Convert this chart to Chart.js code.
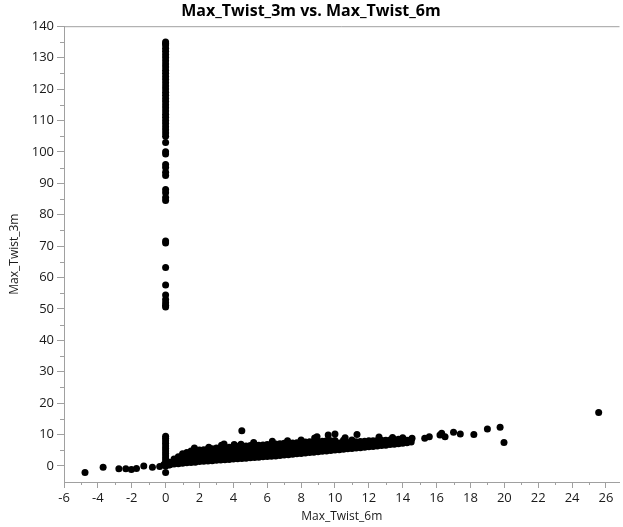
<!DOCTYPE html>
<html>
<head>
<meta charset="utf-8">
<script src="https://cdn.jsdelivr.net/npm/chart.js@4/dist/chart.umd.min.js"></script>
<style>
  body { margin: 0; background: #fff; }
  #wrap { width: 623px; height: 527px; }
</style>
</head>
<body>
<div id="wrap"><canvas id="twistChart" width="623" height="527"></canvas></div>
<script>
const chartTitle = 'Max_Twist_3m vs. Max_Twist_6m';
const xTitle = 'Max_Twist_6m';
const yTitle = 'Max_Twist_3m';

// tall column of readings where Max_Twist_6m is 0
const spikeY = [135, 134.5, 134, 133, 132, 131, 130, 129, 128, 127, 126, 125, 124, 123, 122,
  121, 120, 119, 118, 117, 116, 115, 114, 113, 112, 111, 110, 109, 108, 107, 106, 105,
  103, 100, 99.3, 96, 95, 93.5, 92.5, 88, 87, 85.5, 84.5, 71.6, 71, 63.2, 57.6, 54.4,
  53, 52, 51.2, 50.6];

// short column at 0
const stubY = [-2.1, 0, 0.8, 1.6, 2.4, 3.2, 4, 4.8, 5.6, 6.4, 7.2, 8, 8.8, 9.5];

// few negative Max_Twist_6m values
const negTail = [
  [-4.76, -2.1], [-3.69, -0.4], [-2.76, -0.85], [-2.35, -0.85], [-2.02, -1.1],
  [-1.72, -0.8], [-1.29, 0], [-0.78, -0.4], [-0.35, -0.2], [-0.1, 0.5], [0.1, 1.2], [0.2, 0.3]
];

// dense main cloud
const band = [
  [0.25, 0.4], [0.25, 1.2],
  [0.5, 0.6], [0.5, 1.5], [0.5, 2.2],
  [0.75, 0.7], [0.75, 1.8], [0.75, 2.9],
  [1, 0.9], [1, 2], [1, 3.2], [1, 3.9],
  [1.25, 1], [1.25, 2.2], [1.25, 3.5], [1.25, 4.3],
  [1.5, 1.1], [1.5, 2.4], [1.5, 3.7], [1.5, 4.8],
  [1.75, 1.2], [1.75, 2.5], [1.75, 3.8], [1.75, 5], [1.7, 5.7],
  [2, 1.4], [2, 2.6], [2, 3.9], [2, 5.1],
  [2.25, 1.5], [2.25, 2.7], [2.25, 4], [2.25, 5.2],
  [2.5, 1.6], [2.5, 2.8], [2.5, 4.1], [2.5, 5.4], [2.55, 6],
  [2.75, 1.7], [2.75, 3], [2.75, 4.3], [2.75, 5.5],
  [3, 1.8], [3, 3.1], [3, 4.4], [3, 5.7],
  [3.25, 1.9], [3.25, 3.2], [3.25, 4.5], [3.25, 5.8], [3.3, 6.6],
  [3.5, 2], [3.5, 3.3], [3.5, 4.6], [3.5, 5.9], [3.45, 7],
  [3.75, 2.1], [3.75, 3.4], [3.75, 4.7], [3.75, 6],
  [4, 2.2], [4, 3.5], [4, 4.8], [4, 6.1], [4.05, 6.8],
  [4.25, 2.3], [4.25, 3.6], [4.25, 4.9], [4.25, 6.2],
  [4.5, 2.4], [4.5, 3.7], [4.5, 5], [4.5, 6.3], [4.45, 6.9],
  [4.75, 2.5], [4.75, 3.8], [4.75, 5.1], [4.75, 6.4],
  [5, 2.6], [5, 3.9], [5, 5.2], [5, 6.5],
  [5.25, 2.7], [5.25, 4], [5.25, 5.3], [5.25, 6.6], [5.2, 7.5],
  [5.5, 2.8], [5.5, 4.1], [5.5, 5.4], [5.5, 6.6],
  [5.75, 2.9], [5.75, 4.2], [5.75, 5.5], [5.75, 6.7],
  [6, 3], [6, 4.3], [6, 5.6], [6, 6.8],
  [6.25, 3.1], [6.25, 4.4], [6.25, 5.7], [6.25, 6.9], [6.3, 7.9],
  [6.5, 3.2], [6.5, 4.5], [6.5, 5.8], [6.5, 7],
  [6.75, 3.3], [6.75, 4.6], [6.75, 5.9], [6.75, 7.1],
  [7, 3.5], [7, 4.8], [7, 6], [7, 7.2],
  [7.25, 3.6], [7.25, 4.9], [7.25, 6.1], [7.25, 7.3],
  [7.5, 3.7], [7.5, 5], [7.5, 6.2], [7.5, 7.3],
  [7.75, 3.9], [7.75, 5.1], [7.75, 6.3], [7.75, 7.4],
  [8, 4], [8, 5.2], [8, 6.4], [8, 7.5],
  [8.25, 4.1], [8.25, 5.3], [8.25, 6.5], [8.25, 7.6],
  [8.5, 4.3], [8.5, 5.5], [8.5, 6.6], [8.5, 7.7],
  [8.75, 4.4], [8.75, 5.6], [8.75, 6.7], [8.75, 7.8],
  [9, 4.5], [9, 5.7], [9, 6.8], [9, 7.8],
  [9.25, 4.7], [9.25, 5.8], [9.25, 6.9], [9.25, 7.9],
  [9.5, 4.8], [9.5, 5.9], [9.5, 7], [9.5, 8],
  [9.75, 4.9], [9.75, 6], [9.75, 7.1], [9.75, 8],
  [10, 5.1], [10, 6.1], [10, 7.2], [10, 8.1],
  [10.25, 5.2], [10.25, 6.3], [10.25, 7.3],
  [10.5, 5.3], [10.5, 6.4], [10.5, 7.4], [10.5, 8.2],
  [10.75, 5.5], [10.75, 6.5], [10.75, 7.5],
  [11, 5.6], [11, 6.6], [11, 7.6], [11, 8.3],
  [11.25, 5.7], [11.25, 6.7], [11.25, 7.7],
  [11.5, 5.8], [11.5, 6.8], [11.5, 7.8],
  [11.75, 6], [11.75, 6.9], [11.75, 7.9],
  [12, 6.1], [12, 7], [12, 8],
  [12.25, 6.2], [12.25, 7.1], [12.25, 8],
  [12.5, 6.4], [12.5, 7.2], [12.5, 8.1],
  [12.75, 6.5], [12.75, 7.3], [12.75, 8.2],
  [13, 6.6], [13, 7.4], [13, 8.2],
  [13.25, 6.8], [13.25, 7.5], [13.25, 8.3],
  [13.5, 6.9], [13.5, 7.6], [13.5, 8.4],
  [13.75, 7.1], [13.75, 7.8], [13.75, 8.5],
  [14, 7.2], [14, 7.9], [14, 8.5],
  [14.25, 7.4], [14.25, 8.2],
  [14.5, 7.6], [14.5, 8.4]
];

// points sitting above the cloud
const upperStrays = [
  [4.5, 11.2], [7.2, 8], [8, 8.3], [8.8, 8.9], [8.94, 9.3], [9.6, 9.9], [10, 10.2],
  [10.6, 9], [11.3, 10], [12.6, 9.2], [13.4, 9.1], [14, 9]
];

// sparse tail to the right
const rightTail = [
  [14.55, 8.8], [15.3, 8.8], [15.57, 9.3], [16.2, 9.9], [16.3, 10.4], [16.5, 9.3],
  [17, 10.7], [17.4, 10.2], [18.2, 10], [19, 11.8], [19.75, 12.3], [19.98, 7.5], [25.57, 17]
];

const points = []
  .concat(spikeY.map(y => ({ x: 0, y: y })))
  .concat(stubY.map(y => ({ x: 0, y: y })))
  .concat([negTail, band, upperStrays, rightTail].flat().map(p => ({ x: p[0], y: p[1] })));

const axisGray = '#a0a0a0';
const labelFont = { family: 'Open Sans', size: 13 };

// short in-between tick marks (JMP style)
const minorTicks = {
  id: 'minorTicks',
  afterDraw(chart) {
    const c = chart.ctx;
    const xs = chart.scales.x, ys = chart.scales.y;
    c.save();
    c.strokeStyle = axisGray;
    c.lineWidth = 1;
    c.beginPath();
    for (let v = -5; v <= 26; v += 2) {
      const px = Math.round(xs.getPixelForValue(v)) + 0.5;
      c.moveTo(px, xs.top);
      c.lineTo(px, xs.top + 3);
    }
    for (let v = 5; v <= 140; v += 10) {
      const py = Math.round(ys.getPixelForValue(v)) + 0.5;
      c.moveTo(ys.right, py);
      c.lineTo(ys.right - 4, py);
    }
    // top frame line
    c.moveTo(ys.right, chart.chartArea.top + 0.5);
    c.lineTo(chart.chartArea.right, chart.chartArea.top + 0.5);
    c.stroke();
    c.restore();
  }
};

new Chart(document.getElementById('twistChart'), {
  type: 'scatter',
  data: {
    datasets: [{
      label: yTitle,
      data: points,
      backgroundColor: '#000',
      borderWidth: 0,
      pointRadius: 3.5,
      pointHoverRadius: 3.5
    }]
  },
  options: {
    responsive: false,
    animation: false,
    layout: { padding: { right: 1 } },
    plugins: {
      legend: { display: false },
      tooltip: { enabled: false },
      title: {
        display: true,
        text: chartTitle,
        color: '#000',
        font: { family: 'Open Sans', size: 16, weight: 'bold' },
        padding: { top: 2, bottom: 5 }
      }
    },
    scales: {
      x: {
        type: 'linear',
        min: -6,
        max: 26.8,
        afterFit(scale) { scale.height = 45; },
        grid: { drawOnChartArea: false, tickLength: 6, color: axisGray },
        border: { color: axisGray },
        ticks: { stepSize: 2, includeBounds: false, color: '#1a1a1a', font: labelFont, padding: 2, maxRotation: 0 },
        title: { display: true, text: xTitle, color: '#1a1a1a', font: { family: 'Open Sans', size: 12 }, padding: { bottom: 3 } }
      },
      y: {
        type: 'linear',
        min: -5.1,
        max: 140,
        afterFit(scale) { scale.width = 64; },
        grid: { drawOnChartArea: false, tickLength: 7, color: axisGray },
        border: { color: axisGray },
        ticks: { stepSize: 10, includeBounds: false, color: '#1a1a1a', font: labelFont, padding: 3 },
        title: { display: true, text: yTitle, color: '#1a1a1a', font: { family: 'Open Sans', size: 12 }, padding: { top: 7 } }
      }
    }
  },
  plugins: [minorTicks]
});
</script>
</body>
</html>
